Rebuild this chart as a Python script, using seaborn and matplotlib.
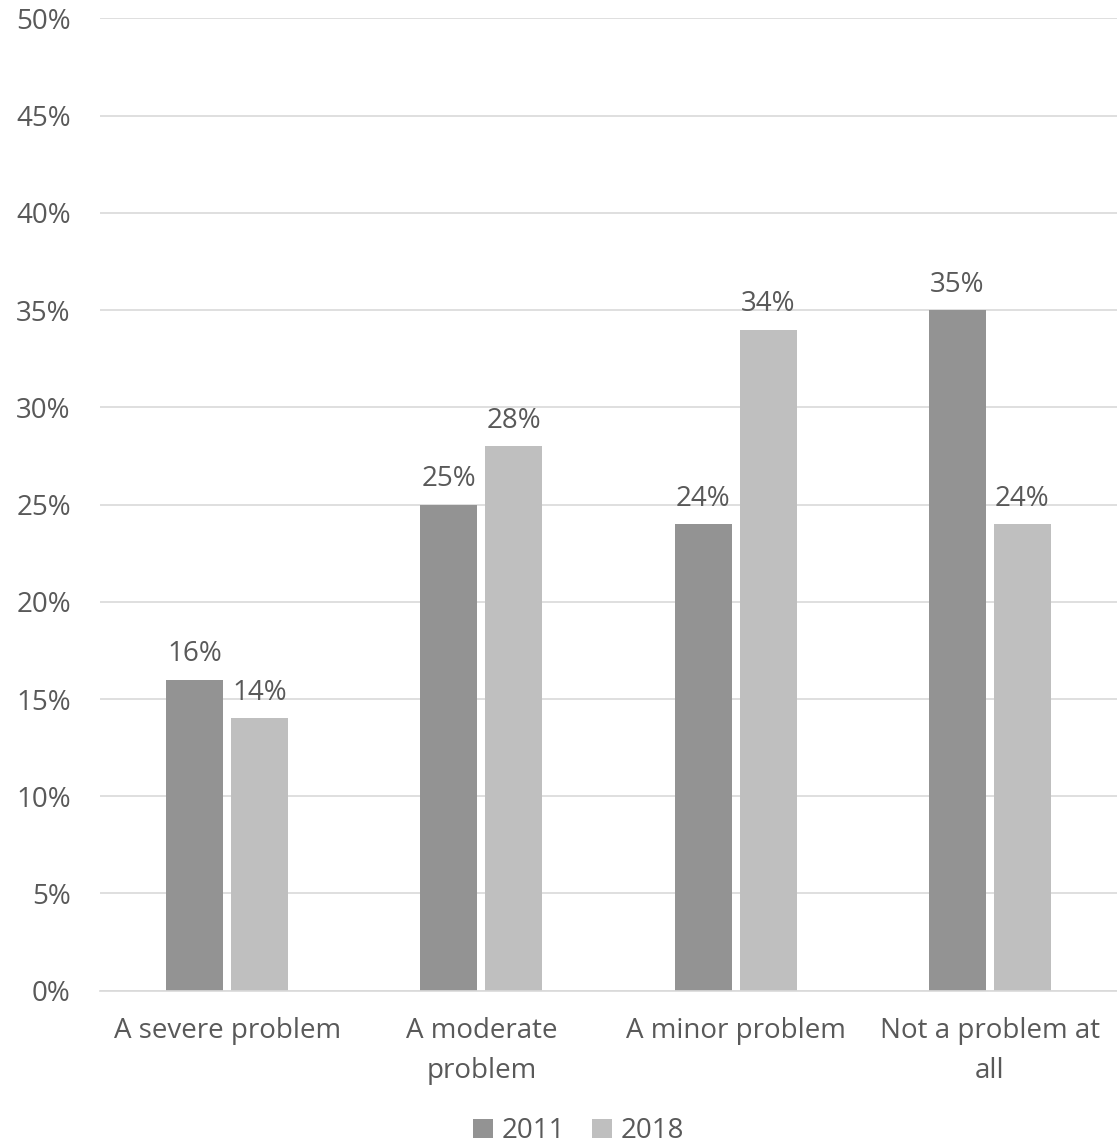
import pandas as pd
import numpy as np
import matplotlib.pyplot as plt
import seaborn as sns

# data
categories = ['A severe problem', 'A moderate\nproblem', 'A minor problem', 'Not a problem at\nall']
years = ['2011', '2018']
values_2011 = [16, 25, 24, 35]
values_2018 = [14, 28, 34, 24]

df = pd.DataFrame({
    'category': categories * 2,
    'year': [years[0]] * 4 + [years[1]] * 4,
    'value': values_2011 + values_2018,
})

sns.set_style('white')
plt.rcParams['font.family'] = ['Open Sans', 'DejaVu Sans']
text_color = '#595959'
palette = {'2011': '#939393', '2018': '#BFBFBF'}
fs = 20

fig = plt.figure(figsize=(11.17, 11.48), dpi=100)
ax = fig.add_axes([0.0895, 0.137, 0.9105, 0.847])

sns.barplot(data=df, x='category', y='value', hue='year', palette=palette,
            width=0.51, gap=0.12, saturation=1, linewidth=0, ax=ax, legend=True)

for cont in ax.containers:
    ax.bar_label(cont, labels=[f'{v:.0f}%' for v in cont.datavalues],
                 padding=8, fontsize=fs, color=text_color)

ax.set_ylim(0, 50)
ax.set_xlim(-0.5, 3.5)
ax.set_yticks(np.arange(0, 51, 5))
ax.set_yticklabels([f'{t}%' for t in range(0, 51, 5)])
ax.yaxis.grid(True, color='#D9D9D9', linewidth=1.2)
ax.set_axisbelow(True)
for s in ['top', 'right', 'left']:
    ax.spines[s].set_visible(False)
ax.spines['bottom'].set_color('#D9D9D9')
ax.spines['bottom'].set_linewidth(1.2)
ax.tick_params(axis='both', length=0, labelsize=fs, labelcolor=text_color)
ax.tick_params(axis='y', pad=21)
ax.tick_params(axis='x', pad=19)
for lab in ax.get_xticklabels():
    lab.set_linespacing(1.55)
ax.set_xlabel('')
ax.set_ylabel('')

ax.legend(loc='center', bbox_to_anchor=(0.518, 0.0145), bbox_transform=fig.transFigure,
          borderaxespad=0, borderpad=0,
          ncol=2, frameon=False, fontsize=fs, labelcolor=text_color,
          handlelength=0.7, handleheight=0.7, handletextpad=0.3, columnspacing=1.0)

fig.savefig('out.png', dpi=100)
